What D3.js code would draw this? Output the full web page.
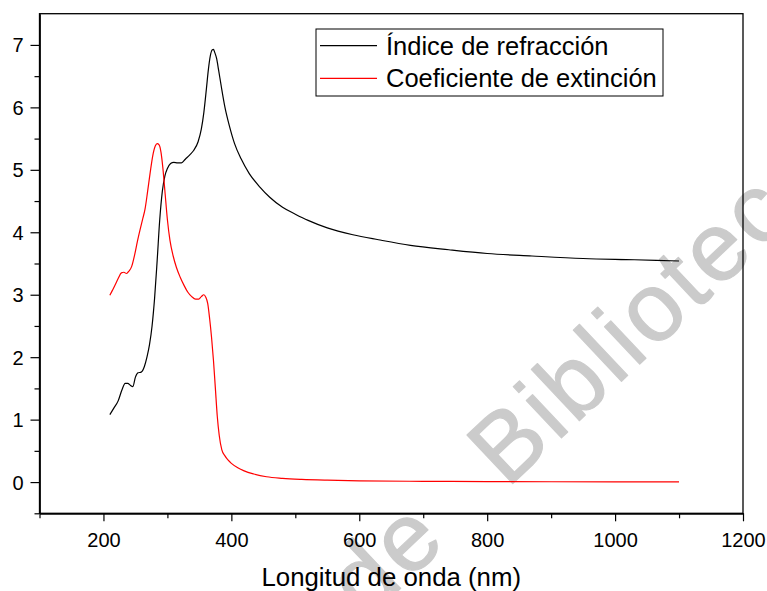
<!DOCTYPE html>
<html>
<head>
<meta charset="utf-8">
<script src="https://cdn.jsdelivr.net/npm/d3@7"></script>
<style>
  body { margin: 0; background: #fff; }
  text { font-family: Arial, "Liberation Sans", sans-serif; }
</style>
</head>
<body>
<div id="chart"></div>
<script>
var w = 767;
var h = 591;

// refractive index n
var wavelengthN = [210, 216, 223, 229, 234, 238, 242, 246, 250, 254, 259, 264, 268, 272, 276, 280, 284, 288, 292, 296,
  300, 305, 310, 316, 322, 328, 335, 341, 348, 353, 357, 361, 364, 367, 370, 372, 374, 377, 380, 384, 390, 397, 405,
  415, 428, 445, 460, 480, 500, 520, 550, 590, 630, 680, 740, 800, 870, 950, 1030, 1100];
var refIndex = [1.08, 1.18, 1.30, 1.48, 1.58, 1.58, 1.55, 1.53, 1.68, 1.75, 1.76, 1.85, 2.00, 2.20, 2.50, 2.95, 3.55, 4.20, 4.65, 4.90,
  5.02, 5.10, 5.12, 5.11, 5.11, 5.17, 5.24, 5.31, 5.45, 5.65, 5.92, 6.30, 6.60, 6.82, 6.92, 6.93, 6.88, 6.78, 6.60, 6.35, 6.00, 5.70, 5.42,
  5.18, 4.94, 4.72, 4.56, 4.40, 4.29, 4.19, 4.07, 3.96, 3.88, 3.79, 3.72, 3.66, 3.62, 3.58, 3.56, 3.54];

// extinction coefficient k
var wavelengthK = [210, 214, 218, 223, 228, 232, 236, 240, 244, 249, 253, 257, 261, 265, 269, 273, 277, 281, 284, 287,
  290, 293, 296, 300, 304, 309, 314, 320, 326, 332, 338, 344, 349, 353, 357, 360, 363, 366, 369, 372, 375, 378, 381,
  385, 390, 395, 400, 410, 420, 435, 455, 480, 510, 550, 600, 700, 800, 900, 1000, 1100];
var extinction = [2.99, 3.07, 3.15, 3.26, 3.35, 3.36, 3.34, 3.38, 3.45, 3.65, 3.85, 4.03, 4.20, 4.37, 4.65, 4.95, 5.22, 5.38, 5.42, 5.40,
  5.28, 5.02, 4.67, 4.20, 3.87, 3.62, 3.44, 3.28, 3.15, 3.04, 2.97, 2.93, 2.93, 2.97, 3.00, 2.96, 2.86, 2.62, 2.32, 1.95, 1.50, 1.05, 0.75,
  0.52, 0.42, 0.35, 0.30, 0.23, 0.18, 0.13, 0.085, 0.06, 0.043, 0.03, 0.02, 0.012, 0.008, 0.005, 0.003, 0.002];

var xTicks = [200, 400, 600, 800, 1000, 1200];
var xMinor = [100, 300, 500, 700, 900, 1100];
var yTicks = [0, 1, 2, 3, 4, 5, 6, 7];
var yMinor = [-0.5, 0.5, 1.5, 2.5, 3.5, 4.5, 5.5, 6.5];
var seriesNames = ['Índice de refracción', 'Coeficiente de extinción'];
var seriesColors = ['#000', '#ff0000'];

var padL = 39.5, padR = 743, padT = 13.7, padB = 513.3;

var svg = d3.select('#chart')
  .append('svg')
  .attr('width', w)
  .attr('height', h);

// watermark, underneath everything
var wm = svg.append('g')
  .attr('fill', '#cbcbcb')
  .attr('stroke', '#cbcbcb')
  .attr('stroke-width', 1.2)
  .attr('stroke-linejoin', 'round')
  .style('font-size', '97px');
wm.append('text')
  .attr('transform', 'translate(366,621) rotate(-43.3)')
  .style('letter-spacing', '4px')
  .text('de');
wm.append('text')
  .attr('transform', 'translate(507,489) rotate(-43.3)')
  .style('letter-spacing', '3.5px')
  .text('Biblioteca');

var x = d3.scaleLinear().domain([100, 1200]).range([padL, padR]);
var y = d3.scaleLinear().domain([-0.5, 7.5]).range([padB, padT]);

// frame
svg.append('rect')
  .attr('x', padL).attr('y', padT)
  .attr('width', padR - padL).attr('height', padB - padT)
  .attr('fill', 'none').attr('stroke', '#000').attr('stroke-width', 1.3);

// x axis
var gx = svg.append('g').attr('transform', 'translate(0,' + padB + ')');
gx.call(d3.axisBottom(x).tickValues(xTicks).tickSize(8).tickSizeOuter(0).tickFormat(d3.format('d')));
gx.append('g').call(d3.axisBottom(x).tickValues(xMinor).tickSize(5).tickSizeOuter(0).tickFormat(''));
gx.selectAll('.domain').attr('stroke-width', 1.3);
gx.selectAll('.tick line').attr('stroke-width', 1.2);
gx.selectAll('.tick text')
  .attr('dy', 0).attr('y', 34)
  .style('font-size', '20px')
  .style('font-family', 'Arial, "Liberation Sans", sans-serif');

// y axis
var gy = svg.append('g').attr('transform', 'translate(' + padL + ',0)');
gy.call(d3.axisLeft(y).tickValues(yTicks).tickSize(9).tickSizeOuter(0).tickFormat(d3.format('d')));
gy.append('g').call(d3.axisLeft(y).tickValues(yMinor).tickSize(5).tickSizeOuter(0).tickFormat(''));
gy.selectAll('.domain').attr('stroke-width', 1.3);
gy.selectAll('.tick line').attr('stroke-width', 1.2);
gy.selectAll('.tick text')
  .attr('x', -16).attr('dy', '0.35em')
  .style('font-size', '20px')
  .style('font-family', 'Arial, "Liberation Sans", sans-serif');

// axis title
svg.append('text')
  .attr('x', (padL + padR) / 2)
  .attr('y', 586)
  .attr('text-anchor', 'middle')
  .style('font-size', '25.8px')
  .text('Longitud de onda (nm)');

// curves
var line = d3.line()
  .x(function (d) { return x(d[0]); })
  .y(function (d) { return y(d[1]); })
  .curve(d3.curveMonotoneX);

var series = [
  d3.zip(wavelengthN, refIndex),
  d3.zip(wavelengthK, extinction)
];

svg.selectAll('path.series')
  .data(series)
  .enter()
  .append('path')
  .attr('class', 'series')
  .attr('d', line)
  .attr('fill', 'none')
  .attr('stroke', function (d, i) { return seriesColors[i]; })
  .attr('stroke-width', 1.2);

// legend
var lg = svg.append('g');
lg.append('rect')
  .attr('x', 316).attr('y', 29)
  .attr('width', 347).attr('height', 67)
  .attr('fill', '#fff').attr('stroke', '#000').attr('stroke-width', 1);

var item = lg.selectAll('g.item')
  .data(seriesNames)
  .enter()
  .append('g')
  .attr('class', 'item')
  .attr('transform', function (d, i) { return 'translate(0,' + (45.7 + i * 32.6) + ')'; });

item.append('line')
  .attr('x1', 320).attr('x2', 377)
  .attr('stroke', function (d, i) { return seriesColors[i]; })
  .attr('stroke-width', 1.2);

item.append('text')
  .attr('x', 386).attr('y', 0)
  .attr('dy', '0.35em')
  .style('font-size', '25.5px')
  .text(function (d) { return d; });
</script>
</body>
</html>
